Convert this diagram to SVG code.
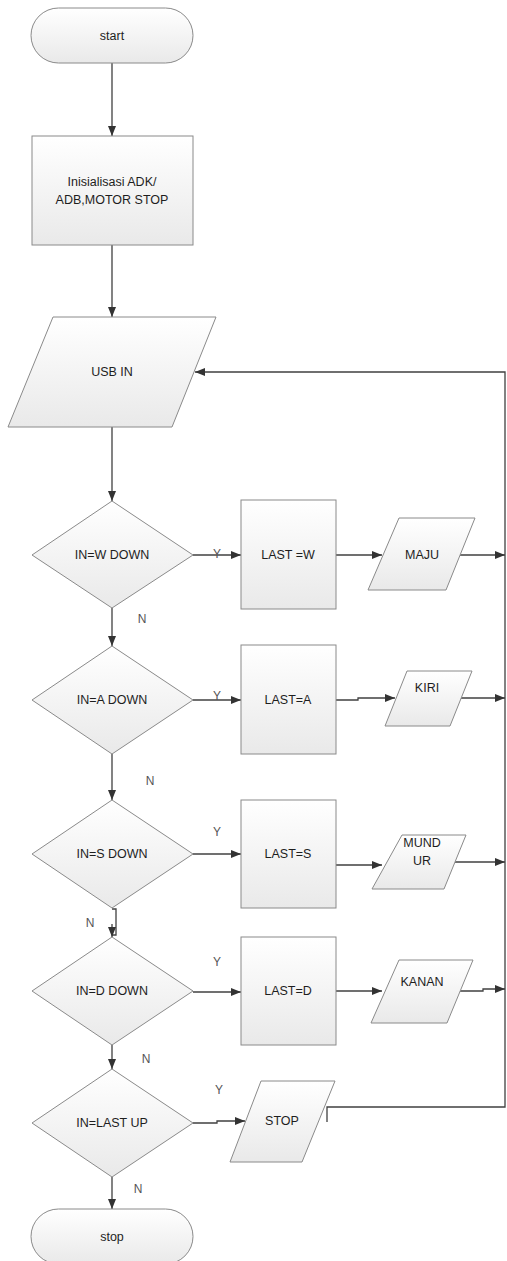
<svg xmlns="http://www.w3.org/2000/svg" width="507" height="1261" viewBox="0 0 507 1261">
<style>
.shape{fill:url(#g);stroke:#8a8a8a;stroke-width:1}
.t{font-family:"Liberation Sans",Arial,sans-serif;font-size:12.5px;fill:#1e1e1e;text-anchor:middle;dominant-baseline:central}
.lbl{font-family:"Liberation Sans",Arial,sans-serif;font-size:12px;fill:#555;text-anchor:middle;dominant-baseline:central}
.c{fill:none;stroke:#404040;stroke-width:1.3}
.a{marker-end:url(#ah)}
</style>
<defs>
<linearGradient id="g" x1="0" y1="0" x2="0" y2="1">
<stop offset="0" stop-color="#ffffff"/>
<stop offset="1" stop-color="#e9e9e9"/>
</linearGradient>
<marker id="ah" markerWidth="10" markerHeight="8" refX="10" refY="4" orient="auto" markerUnits="userSpaceOnUse">
<path d="M0,0 L10,4 L0,8 Z" fill="#333"/>
</marker>
</defs>
<g id="connectors">
<path class="c a" d="M112,63 V136"/>
<path class="c a" d="M112,245 V317"/>
<path class="c a" d="M112,427 V501"/>
<path class="c a" d="M193,555 H241"/>
<path class="c a" d="M336,555 H382"/>
<path class="c a" d="M460,555 H505"/>
<path class="c a" d="M112,608 V646"/>
<path class="c a" d="M193,700 H241"/>
<path class="c a" d="M336,700 H358 V698 H395"/>
<path class="c a" d="M460,698 H505"/>
<path class="c a" d="M112,754 V800"/>
<path class="c a" d="M193,854 H241"/>
<path class="c a" d="M335,858 V865 H382"/>
<path class="c a" d="M455,862 H505"/>
<path class="c" d="M112,909 H116 V935 H112"/>
<path class="c a" d="M112,924 V937"/>
<path class="c a" d="M193,992 H241"/>
<path class="c a" d="M336,991 H382"/>
<path class="c a" d="M458,991 H483 V989 H505"/>
<path class="c a" d="M112,1045 V1069"/>
<path class="c a" d="M193,1123 H217 V1121 H245"/>
<path class="c a" d="M112,1177 V1209"/>
<path class="c a" d="M327,1122 V1107 H505 V372 H195"/>
<text class="lbl" x="217" y="554">Y</text>
<text class="lbl" x="217" y="696">Y</text>
<text class="lbl" x="217" y="832">Y</text>
<text class="lbl" x="217" y="962">Y</text>
<text class="lbl" x="219" y="1090">Y</text>
<text class="lbl" x="142" y="619">N</text>
<text class="lbl" x="150" y="781">N</text>
<text class="lbl" x="90" y="923">N</text>
<text class="lbl" x="146" y="1059">N</text>
<text class="lbl" x="138" y="1189">N</text>
</g>
<g id="start"><rect class="shape" x="31" y="8" width="162" height="55" rx="27.5"/><text class="t" x="112" y="36">start</text></g>
<g id="init"><rect class="shape" x="32" y="136" width="161" height="109"/><text class="t" x="112" y="182">Inisialisasi ADK/</text><text class="t" x="112" y="200">ADB,MOTOR STOP</text></g>
<g id="usbin"><polygon class="shape" points="53,317 216,317 172,427 8,427"/><text class="t" x="112" y="372">USB IN</text></g>
<g id="dW"><polygon class="shape" points="112,501 193,555 112,608 32,555"/><text class="t" x="112" y="555">IN=W DOWN</text></g>
<g id="lastW"><rect class="shape" x="241" y="500" width="95" height="109"/><text class="t" x="288" y="555">LAST =W</text></g>
<g id="maju"><polygon class="shape" points="399,518 475,518 446,590 368,590"/><text class="t" x="422" y="555">MAJU</text></g>
<g id="dA"><polygon class="shape" points="112,646 193,700 112,754 32,700"/><text class="t" x="112" y="700">IN=A DOWN</text></g>
<g id="lastA"><rect class="shape" x="241" y="645" width="95" height="109"/><text class="t" x="288" y="700">LAST=A</text></g>
<g id="kiri"><polygon class="shape" points="407,671 472,671 450,726 385,726"/><text class="t" x="427" y="688">KIRI</text></g>
<g id="dS"><polygon class="shape" points="112,800 193,854 112,908 32,854"/><text class="t" x="112" y="854">IN=S DOWN</text></g>
<g id="lastS"><rect class="shape" x="241" y="800" width="95" height="108"/><text class="t" x="288" y="854">LAST=S</text></g>
<g id="mundur"><polygon class="shape" points="402,835 466,835 444,889 372,889"/><text class="t" x="422" y="843">MUND</text><text class="t" x="422" y="861">UR</text></g>
<g id="dD"><polygon class="shape" points="112,937 193,991 112,1045 32,991"/><text class="t" x="112" y="991">IN=D DOWN</text></g>
<g id="lastD"><rect class="shape" x="241" y="937" width="95" height="108"/><text class="t" x="288" y="991">LAST=D</text></g>
<g id="kanan"><polygon class="shape" points="399,960 473,960 447,1023 371,1023"/><text class="t" x="422" y="982">KANAN</text></g>
<g id="dUp"><polygon class="shape" points="112,1069 193,1123 112,1177 32,1123"/><text class="t" x="112" y="1123">IN=LAST UP</text></g>
<g id="stopout"><polygon class="shape" points="261,1081 335,1081 302,1162 230,1162"/><text class="t" x="282" y="1121">STOP</text></g>
<g id="stop"><rect class="shape" x="31" y="1209" width="162" height="55" rx="27.5"/><text class="t" x="112" y="1237">stop</text></g>
</svg>
